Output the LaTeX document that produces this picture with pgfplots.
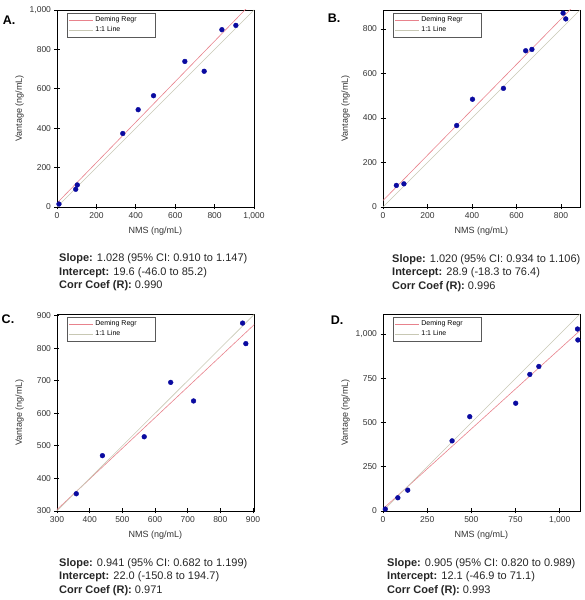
\documentclass[border=0pt]{standalone}
\usepackage{fontspec}
\setmainfont{Liberation Sans}
\usepackage{pgfplots}
\pgfplotsset{compat=1.18}
\definecolor{deming}{RGB}{232,130,140}
\definecolor{oneone}{RGB}{200,200,180}
\definecolor{dot}{RGB}{10,10,160}
\newcommand{\LE}[1]{\makebox[56pt][l]{#1}}
\pgfplotsset{
 panel/.style={
  scale only axis, width=197pt, height=197pt,
  axis line style={black, line width=0.8pt},
  tick style={black, line width=0.8pt},
  tick align=center, major tick length=5pt,
  xtick pos=bottom, ytick pos=left,
  /pgf/number format/assume math mode=true,
  /pgf/number format/1000 sep={,},
  ticklabel style={font=\fontsize{8.5}{10}\selectfont, text=black!80},
  label style={font=\fontsize{9}{11}\selectfont, text=black!80},
  xlabel={NMS (ng/mL)}, ylabel={Vantage (ng/mL)},
  xlabel style={at={(axis description cs:0.5,-0.122)}, anchor=center},
  ylabel style={at={(axis description cs:-0.19,0.5)}, anchor=center},
  legend style={font=\fontsize{7}{8}\selectfont, draw=black!65, line width=0.5pt,
    inner sep=1.5pt, row sep=-0.5pt, at={(0.05,0.985)}, anchor=north west},
  legend image code/.code={\draw[##1, line width=0.8pt] (0pt,0pt) -- (24pt,0pt);},
  legend cell align=left,
 },
 dem/.style={deming, line width=0.6pt},
 one/.style={oneone, line width=0.6pt},
 pts/.style={only marks, mark=*, mark size=2.4pt, color=dot},
}
\begin{document}
\begin{tikzpicture}[x=1pt,y=1pt]
\useasboundingbox (0,0) rectangle (585,600);
% Panel A
\begin{axis}[panel, at={(57pt,393pt)}, anchor=south west,
  xmin=0, xmax=1000, ymin=0, ymax=1000,
  xtick={0,200,...,1000}, ytick={0,200,...,1000}]
\addplot[dem] coordinates {(-100,-83.2) (1100,1150.4)};
\addlegendentry{\LE{Deming Regr}}
\addplot[one] coordinates {(-100,-100) (1100,1100)};
\addlegendentry{\LE{1:1 Line}}
\addplot[pts, forget plot] coordinates {
(10,15) (95,90) (103,112) (334,373) (412,494) (490,565) (649,739) (747,689) (837,900) (908,922)};
\end{axis}
% Panel B
\begin{axis}[panel, at={(383pt,393pt)}, anchor=south west,
  xmin=0, xmax=885, ymin=0, ymax=885,
  xtick={0,200,...,800}, ytick={0,200,...,800}]
\addplot[dem] coordinates {(-100,-73.1) (1000,1048.9)};
\addlegendentry{\LE{Deming Regr}}
\addplot[one] coordinates {(-100,-100) (1000,1000)};
\addlegendentry{\LE{1:1 Line}}
\addplot[pts, forget plot] coordinates {
(60,97) (94,104) (331,366) (402,484) (541,533) (641,702) (669,708) (809,871) (821,845)};
\end{axis}
% Panel C
\begin{axis}[panel, at={(57pt,89pt)}, anchor=south west,
  xmin=300, xmax=903, ymin=300, ymax=905,
  xtick={300,400,...,900}, ytick={300,400,...,900}]
\addplot[dem] coordinates {(250,257.25) (1000,963)};
\addlegendentry{\LE{Deming Regr}}
\addplot[one] coordinates {(250,250) (1000,1000)};
\addlegendentry{\LE{1:1 Line}}
\addplot[pts, forget plot] coordinates {
(359,353) (439,470) (567,528) (648,695) (718,638) (868,877) (878,814)};
\end{axis}
% Panel D
\begin{axis}[panel, at={(383pt,89pt)}, anchor=south west,
  xmin=0, xmax=1115, ymin=0, ymax=1115,
  xtick={0,250,...,1000}, ytick={0,250,...,1000}]
\addplot[dem] coordinates {(-100,-78.4) (1200,1098.1)};
\addlegendentry{\LE{Deming Regr}}
\addplot[one] coordinates {(-100,-100) (1200,1200)};
\addlegendentry{\LE{1:1 Line}}
\addplot[pts, forget plot] coordinates {
(13,11) (84,75) (140,118) (391,397) (491,534) (751,610) (831,773) (882,818) (1101,1030) (1103,968)};
\end{axis}
% panel letters
\node[font=\fontsize{12.5}{14}\bfseries] at (9,580) {A.};
\node[font=\fontsize{12.5}{14}\bfseries] at (334,582) {B.};
\node[font=\fontsize{12.5}{14}\bfseries] at (8,281) {C.};
\node[font=\fontsize{12.5}{14}\bfseries] at (337,280) {D.};
% stats
\node[anchor=west, align=left, font=\fontsize{11}{13.5}\selectfont, text=black!85, inner sep=0pt] at (59,327.5)
 {\textbf{Slope:} 1.028 (95\% CI: 0.910 to 1.147)\\\textbf{Intercept:} 19.6 (-46.0 to 85.2)\\\textbf{Corr Coef (R):} 0.990};
\node[anchor=west, align=left, font=\fontsize{11}{13.5}\selectfont, text=black!85, inner sep=0pt] at (392,327)
 {\textbf{Slope:} 1.020 (95\% CI: 0.934 to 1.106)\\\textbf{Intercept:} 28.9 (-18.3 to 76.4)\\\textbf{Corr Coef (R):} 0.996};
\node[anchor=west, align=left, font=\fontsize{11}{13.5}\selectfont, text=black!85, inner sep=0pt] at (59,23)
 {\textbf{Slope:} 0.941 (95\% CI: 0.682 to 1.199)\\\textbf{Intercept:} 22.0 (-150.8 to 194.7)\\\textbf{Corr Coef (R):} 0.971};
\node[anchor=west, align=left, font=\fontsize{11}{13.5}\selectfont, text=black!85, inner sep=0pt] at (387,23)
 {\textbf{Slope:} 0.905 (95\% CI: 0.820 to 0.989)\\\textbf{Intercept:} 12.1 (-46.9 to 71.1)\\\textbf{Corr Coef (R):} 0.993};
\end{tikzpicture}
\end{document}
